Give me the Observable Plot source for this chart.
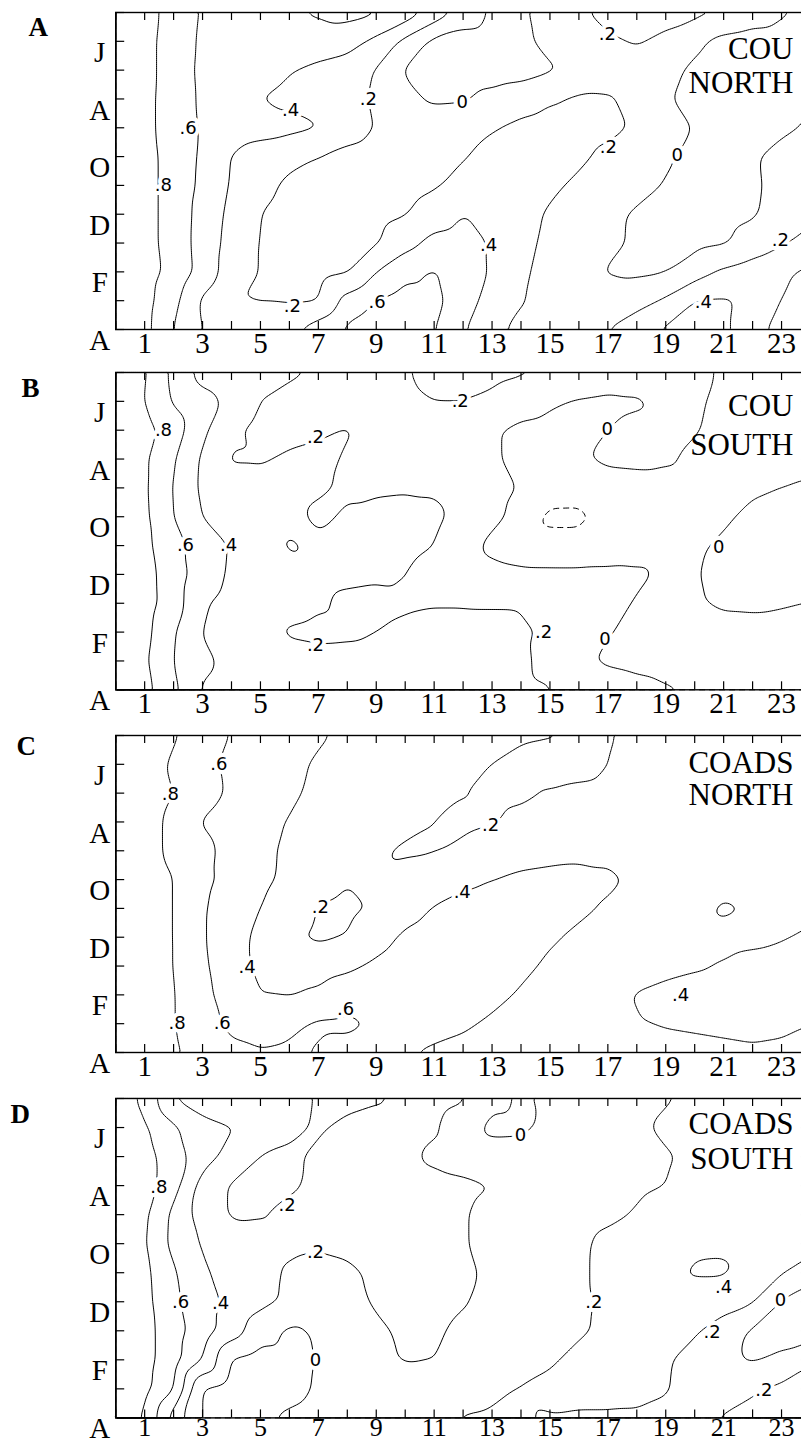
<!DOCTYPE html>
<html><head><meta charset="utf-8">
<script src="https://cdn.jsdelivr.net/npm/d3@7"></script>
<script src="https://cdn.jsdelivr.net/npm/@observablehq/plot@0.6"></script>
<style>
html,body{margin:0;padding:0;background:#fff;overflow:hidden;width:801px;height:1444px}
#wrap{position:relative;width:812px;height:1444px}
#wrap svg{position:absolute;left:0;max-width:none}
</style></head><body><div id="wrap"></div>
<script>
// ---- axes ----
const xPositions = d3.range(0, 25);          // tick positions 0..24
const xTickLabels = [1,3,5,7,9,11,13,15,17,19,21,23];
const monthPositions = d3.range(0, 12);      // 0 = May (top) ... 11 = April (bottom)
const monthLabelPositions = [1,3,5,7,9,11];
const monthLabels = ["J","A","O","D","F","A"];
const solidLevels = [0, 0.2, 0.4, 0.6, 0.8];
const dashedLevels = [-0.2];

// ---- panel A: COU NORTH (rows = months 0..11, cols = x 0..24) ----
const gridA = [
[1.0,.88,.72,.58,.55,.55,.58,.62,.66,.62,.52,.33,.14,-.03,-.03,.08,.17,.26,.28,.28,.25,.2,.12,.03,-.05],
[1.0,.87,.7,.57,.53,.52,.52,.52,.48,.35,.15,-.05,-.1,-.1,-.04,.05,.12,.17,.22,.15,.04,-.06,-.1,-.1,-.1],
[1.0,.87,.7,.56,.5,.46,.41,.35,.3,.19,-.02,-.08,-.1,-.1,-.08,-.02,.04,.1,.1,.05,-.03,-.1,-.12,-.12,-.1],
[1.0,.86,.7,.57,.47,.4,.36,.33,.27,.17,.05,-.03,-.02,.06,.12,.18,.23,.22,.14,.02,-.06,-.1,-.1,-.06,-.02],
[1.0,.86,.7,.58,.5,.47,.45,.41,.3,.19,.14,.12,.14,.19,.24,.27,.27,.24,.18,.08,-.01,-.06,-.06,-.03,.02],
[1.0,.87,.72,.57,.39,.31,.24,.2,.14,.1,.08,.1,.19,.25,.28,.27,.23,.16,.1,.02,-.05,-.07,-.02,.05,.1],
[1.0,.87,.72,.56,.38,.25,.17,.12,.09,.09,.12,.18,.26,.3,.28,.23,.17,.1,.05,-.01,-.06,-.07,-.03,.06,.12],
[1.0,.87,.72,.53,.35,.2,.14,.1,.1,.14,.19,.3,.4,.36,.26,.18,.1,.04,-.02,-.06,-.08,-.06,-.02,.08,.16],
[1.0,.87,.72,.52,.33,.19,.13,.12,.14,.18,.33,.46,.48,.38,.25,.16,.09,.03,-.02,-.05,-.05,-.02,.08,.18,.26],
[1.0,.88,.74,.53,.3,.19,.13,.14,.18,.4,.55,.62,.5,.38,.23,.14,.06,-.01,-.03,-.01,.1,.23,.3,.37,.44],
[1.0,.87,.66,.37,.21,.19,.18,.19,.47,.6,.68,.66,.48,.33,.21,.14,.09,.08,.12,.23,.41,.42,.36,.4,.47],
[1.0,.86,.6,.39,.33,.32,.37,.5,.64,.73,.72,.61,.42,.25,.15,.12,.15,.2,.33,.43,.46,.41,.37,.43,.5]
];
const labelsA = [
  {x:1.65,m:6.0,t:".8"},{x:2.5,m:4.0,t:".6"},{x:6.04,m:3.4,t:".4"},{x:8.73,m:3.0,t:".2"},
  {x:11.97,m:3.1,t:"0"},{x:6.1,m:10.2,t:".2"},{x:9.03,m:10.04,t:".6"},{x:12.88,m:8.08,t:".4"},
  {x:17.02,m:4.67,t:".2"},{x:19.4,m:4.96,t:"0"},{x:16.98,m:0.74,t:".2"},{x:20.3,m:10.04,t:".4"},
  {x:22.96,m:7.9,t:".2"}
];

// ---- panel B: COU SOUTH ----
const gridB = [
[1.0,.82,.55,.33,.29,.26,.23,.18,.15,.16,.19,.24,.26,.25,.22,.21,.16,.12,.08,.05,.02,-.01,-.04,-.05,-.04],
[1.0,.8,.58,.46,.36,.2,.14,.13,.13,.14,.17,.2,.2,.16,.09,.03,-.02,-.04,-.02,.04,.02,-.03,-.06,-.07,-.06],
[1.0,.87,.7,.44,.24,.14,.14,.17,.21,.15,.12,.12,.08,.02,-.04,-.06,-.04,.0,.04,.05,.01,-.04,-.07,-.08,-.07],
[1.0,.83,.62,.37,.18,.18,.23,.25,.18,.14,.12,.1,.07,.02,-.04,-.05,-.02,.03,.04,.02,-.03,-.06,-.08,-.08,-.07],
[1.0,.83,.59,.36,.3,.27,.25,.22,.18,.17,.18,.18,.12,.05,-.01,-.06,-.08,-.08,-.07,-.06,-.05,-.04,-.02,.0,.03],
[1.0,.84,.6,.39,.33,.29,.24,.17,.22,.26,.27,.24,.14,.04,-.05,-.26,-.26,-.1,-.07,-.05,-.04,-.02,.03,.08,.1],
[1.0,.85,.66,.52,.38,.27,.18,.23,.27,.27,.24,.2,.07,-.04,-.08,-.1,-.1,-.08,-.06,-.04,-.02,.02,.08,.14,.21],
[1.0,.87,.7,.5,.37,.3,.26,.24,.23,.22,.2,.14,.09,.05,.03,.03,.03,.03,.02,-.02,-.01,.04,.07,.1,.13],
[1.0,.88,.7,.42,.34,.3,.27,.22,.17,.16,.18,.19,.19,.19,.19,.14,.09,.04,-.01,-.04,-.02,.03,.04,.02,-.01],
[1.0,.86,.62,.39,.32,.26,.18,.16,.17,.2,.23,.25,.25,.24,.22,.18,.08,.01,-.04,-.06,-.07,-.08,-.08,-.08,-.07],
[1.0,.83,.6,.44,.35,.3,.27,.26,.26,.26,.27,.27,.26,.24,.23,.15,.04,-.03,-.06,-.08,-.09,-.09,-.09,-.09,-.08],
[1.0,.86,.65,.38,.33,.3,.28,.27,.27,.27,.27,.26,.25,.24,.23,.21,.17,.12,.07,.02,-.02,-.05,-.06,-.06,-.05]
];
const labelsB = [
  {x:1.65,m:2.0,t:".8"},{x:2.41,m:6.0,t:".6"},{x:3.9,m:6.0,t:".4"},{x:6.9,m:2.23,t:".2"},
  {x:6.9,m:9.47,t:".2"},{x:11.9,m:0.98,t:".2"},{x:16.98,m:1.96,t:"0"},{x:20.83,m:6.06,t:"0"},
  {x:14.78,m:9.0,t:".2"},{x:16.9,m:9.23,t:"0"}
];

// ---- panel C: COADS NORTH ----
const gridC = [
[1.0,.9,.82,.7,.59,.53,.47,.42,.37,.33,.3,.28,.26,.24,.22,.21,.17,.19,.23,.25,.26,.27,.27,.27,.27],
[1.0,.9,.77,.65,.56,.5,.44,.38,.34,.31,.28,.25,.22,.2,.16,.14,.15,.2,.24,.26,.27,.28,.28,.28,.28],
[1.0,.9,.8,.68,.57,.5,.43,.36,.32,.29,.26,.23,.205,.17,.18,.21,.23,.24,.25,.26,.27,.28,.28,.28,.28],
[1.0,.88,.75,.59,.5,.45,.39,.34,.3,.27,.24,.2,.17,.19,.23,.25,.25,.25,.26,.27,.27,.28,.29,.3,.3],
[1.0,.88,.75,.66,.53,.44,.37,.32,.27,.22,.18,.19,.23,.27,.31,.33,.35,.36,.34,.32,.31,.31,.32,.33,.33],
[1.0,.9,.8,.64,.55,.44,.36,.27,.21,.22,.26,.31,.36,.4,.44,.46,.46,.43,.37,.33,.33,.35,.37,.41,.37],
[1.0,.9,.8,.62,.5,.4,.3,.19,.16,.22,.33,.41,.46,.48,.48,.46,.43,.38,.34,.33,.36,.42,.39,.38,.37],
[1.0,.9,.8,.62,.47,.36,.22,.17,.2,.33,.43,.48,.5,.5,.47,.42,.37,.34,.33,.34,.35,.36,.37,.39,.42],
[1.0,.9,.8,.64,.46,.37,.32,.32,.36,.43,.5,.53,.52,.49,.44,.37,.33,.32,.33,.35,.38,.41,.44,.45,.46],
[1.0,.9,.81,.66,.5,.4,.39,.43,.52,.56,.56,.53,.49,.45,.38,.33,.32,.35,.41,.45,.47,.48,.48,.48,.48],
[1.0,.9,.81,.67,.56,.5,.55,.63,.64,.58,.52,.47,.43,.37,.33,.31,.31,.34,.39,.41,.42,.43,.44,.43,.4],
[1.0,.92,.83,.72,.64,.62,.64,.58,.53,.47,.41,.37,.34,.32,.31,.3,.3,.31,.33,.35,.36,.37,.38,.37,.36]
];
const labelsC = [
  {x:1.89,m:2.03,t:".8"},{x:3.56,m:1.0,t:".6"},{x:7.07,m:5.96,t:".2"},{x:4.54,m:8.05,t:".4"},
  {x:2.12,m:10.0,t:".8"},{x:3.68,m:10.0,t:".6"},{x:7.94,m:9.5,t:".6"},{x:12.95,m:3.13,t:".2"},
  {x:11.97,m:5.45,t:".4"},{x:19.51,m:9.03,t:".4"}
];

// ---- panel D: COADS SOUTH ----
const gridD = [
[.95,.74,.4,.28,.19,.25,.24,.19,.15,.18,.24,.26,.22,.05,-.02,.03,.08,.12,.16,.19,.22,.25,.27,.27,.27],
[1.0,.83,.63,.48,.41,.33,.24,.18,.24,.27,.26,.22,.1,-.05,-.04,.05,.1,.14,.18,.22,.26,.28,.29,.3,.3],
[1.0,.87,.7,.48,.33,.19,.17,.23,.27,.27,.23,.17,.13,.1,.1,.11,.13,.15,.17,.19,.22,.26,.28,.3,.32],
[1.0,.88,.68,.32,.18,.15,.18,.23,.27,.28,.27,.25,.23,.2,.16,.14,.14,.15,.18,.2,.24,.27,.3,.33,.37],
[1.0,.84,.55,.31,.18,.19,.24,.27,.29,.29,.27,.25,.21,.16,.13,.12,.14,.17,.21,.25,.28,.3,.31,.32,.33],
[1.0,.82,.54,.38,.3,.26,.23,.22,.24,.27,.27,.25,.21,.16,.13,.13,.17,.24,.28,.31,.37,.38,.35,.32,.3],
[1.0,.85,.62,.43,.32,.25,.18,.15,.17,.23,.26,.26,.23,.17,.13,.13,.17,.25,.3,.35,.42,.42,.33,.22,.06],
[1.0,.86,.64,.48,.35,.25,.17,.1,.14,.22,.25,.25,.21,.16,.13,.13,.17,.23,.27,.3,.3,.27,.22,-.02,-.08],
[1.0,.87,.68,.5,.3,.08,-.03,.02,.1,.17,.23,.22,.17,.14,.13,.14,.18,.23,.26,.26,.22,.12,-.03,-.1,-.1],
[1.0,.87,.68,.4,-.02,-.08,-.06,.01,.1,.17,.21,.2,.15,.12,.13,.18,.24,.27,.26,.22,.14,.04,-.02,.05,.18],
[1.0,.86,.62,-.02,-.08,-.1,-.06,.02,.08,.11,.12,.13,.14,.17,.21,.24,.25,.25,.24,.21,.15,.14,.18,.24,.28],
[.95,.78,.33,-.02,-.06,-.03,.03,.07,.1,.12,.14,.17,.21,.22,.21,.19,.18,.18,.18,.17,.18,.21,.25,.28,.3]
];
const labelsD = [
  {x:1.49,m:3.04,t:".8"},{x:2.24,m:7.0,t:".6"},{x:3.62,m:7.06,t:".4"},{x:5.92,m:3.67,t:".2"},
  {x:6.9,m:5.28,t:".2"},{x:6.9,m:9.01,t:"0"},{x:16.52,m:7.0,t:".2"},{x:13.98,m:1.27,t:"0"},
  {x:21.0,m:6.49,t:".4"},{x:22.96,m:6.95,t:"0"},{x:20.6,m:8.04,t:".2"},{x:22.39,m:10.04,t:".2"}
];

const panels = [
  {grid: gridA, labels: labelsA, letter: "A", title: ["COU","NORTH"], frameTop: 12, fh: 317, letterLeft: 28, letterTop: 17.5, titleBase: [46, 80], xlDy: 3, xlSize: 29},
  {grid: gridB, labels: labelsB, letter: "B", title: ["COU","SOUTH"], frameTop: 371.7, fh: 317.3, letterLeft: 21, letterTop: 378, titleBase: [43, 82], xlDy: 3, xlSize: 29},
  {grid: gridC, labels: labelsC, letter: "C", title: ["COADS","NORTH"], frameTop: 734.7, fh: 317, letterLeft: 16, letterTop: 736, titleBase: [37, 69], xlDy: 3, xlSize: 29},
  {grid: gridD, labels: labelsD, letter: "D", title: ["COADS","SOUTH"], frameTop: 1098.3, fh: 319.4, letterLeft: 10, letterTop: 1105, titleBase: [35, 70], xlDy: 0, xlSize: 26}
];

const serif = "'Liberation Serif', 'Times New Roman', serif";
const W = 812, ML = 115.2, XR = 810, MT = 12, MB = 34;
const FW = XR - ML;

const wrap = document.getElementById("wrap");
for (const p of panels) {
  const pts = [];
  p.grid.forEach((row, m) => row.forEach((v, x) => pts.push({x, m, v})));
  const H = MT + p.fh + MB;
  const contourOpts = {x: "x", y: "m", value: "v", interpolate: "barycentric", blur: 2, pixelSize: 2,
                       stroke: "black", strokeWidth: 1, fill: "none"};
  const marks = [
    Plot.contour(pts, {...contourOpts, thresholds: solidLevels}),
    Plot.contour(pts, {...contourOpts, thresholds: dashedLevels, strokeDasharray: "6,4"}),
    Plot.text(p.labels, {x: "x", y: "m", text: "t", fontSize: 18, fontFamily: "'DejaVu Sans', sans-serif",
                         fill: "black", stroke: "white", strokeWidth: 8, paintOrder: "stroke"}),
    Plot.frame({stroke: "black", strokeWidth: 1.4}),
    Plot.tickX(xPositions, {x: d => d, insetTop: p.fh - 8, stroke: "black", strokeWidth: 1.2}),
    Plot.tickX(xPositions, {x: d => d, insetBottom: p.fh - 8, stroke: "black", strokeWidth: 1.2}),
    Plot.tickY(monthPositions, {y: d => d, insetRight: FW - 9, stroke: "black", strokeWidth: 1.2}),
    Plot.tickY(monthPositions, {y: d => d, insetLeft: FW - 9, stroke: "black", strokeWidth: 1.2}),
    Plot.text(xTickLabels, {x: d => d, text: d => String(d), frameAnchor: "bottom", lineAnchor: "top", dy: p.xlDy,
                            fontSize: p.xlSize, fontFamily: serif, fill: "black"}),
    Plot.text(monthLabelPositions, {y: d => d, text: (d, i) => monthLabels[i], frameAnchor: "left", dx: -16,
                                    textAnchor: "middle", lineAnchor: "top", fontSize: 29, fontFamily: serif, fill: "black"}),
    Plot.text([p.letter], {text: d => d, frameAnchor: "top-left", textAnchor: "start", lineAnchor: "top",
                           dx: p.letterLeft - ML, dy: p.letterTop - p.frameTop - 1.3, fontSize: 27, fontWeight: "bold",
                           fontFamily: serif, fill: "black"}),
    Plot.text([p.title[0]], {text: d => d, frameAnchor: "top-right", textAnchor: "end", lineAnchor: "top",
                             dx: -17, dy: p.titleBase[0] - 22, fontSize: 31, fontFamily: serif, fill: "black"}),
    Plot.text([p.title[1]], {text: d => d, frameAnchor: "top-right", textAnchor: "end", lineAnchor: "top",
                             dx: -17, dy: p.titleBase[1] - 22, fontSize: 31, fontFamily: serif, fill: "black"})
  ];
  const svg = Plot.plot({
    width: W, height: H,
    marginLeft: ML, marginRight: W - XR, marginTop: MT, marginBottom: MB,
    x: {domain: [0, 24], axis: null},
    y: {domain: [0, 11], reverse: true, axis: null},
    style: {background: "none", overflow: "visible", maxWidth: "none"},
    marks
  });
  svg.style.top = (p.frameTop - MT) + "px";
  wrap.appendChild(svg);
}
</script>
</body></html>
